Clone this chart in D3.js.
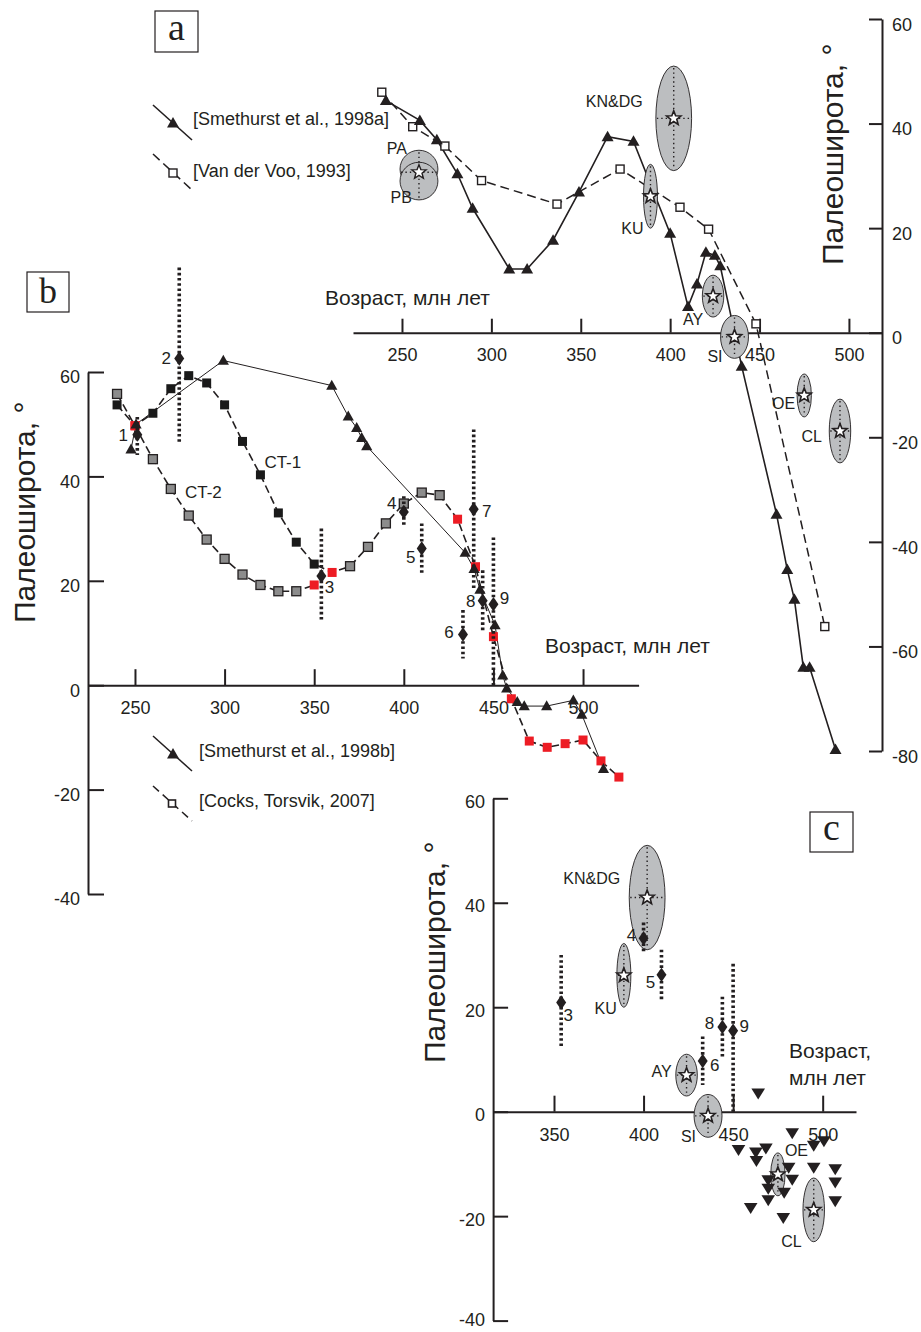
<!DOCTYPE html>
<html>
<head>
<meta charset="utf-8">
<script src="https://cdn.jsdelivr.net/npm/d3@7"></script>
<style>
  body { margin: 0; background: #fff; }
</style>
</head>
<body>
<div id="chart"></div>
<script>
// ---------- ticks ----------
var ageTicks = [250, 300, 350, 400, 450, 500]
var ageTicksC = [350, 400, 450, 500]
var latTicksA = [60, 40, 20, 0, -20, -40, -60, -80]
var latTicksB = [60, 40, 20, 0, -20, -40]

// ---------- panel a ----------
// [Smethurst et al., 1998a]
var smaAge = [241, 260, 269.5, 281, 289.5, 310, 320, 334.5, 349, 365, 379.5, 400, 410, 415, 420, 425, 428, 440, 459.5, 465.5, 469.5, 474.5, 478, 492.5]
var smaLat = [44.4, 40.6, 36.9, 30.4, 23.8, 12.2, 12.2, 17.7, 26.9, 37.5, 36.6, 19, 5, 9.3, 15.4, 14.8, 12.8, -6.4, -34.7, -45.3, -51, -64, -64, -79.7]
// [Van der Voo, 1993]
var vdvAge = [238.7, 256, 274, 294.5, 336.7, 372, 405.5, 421.5, 448, 486.5]
var vdvLat = [46, 39.4, 35.7, 29.1, 24.6, 31.3, 24, 19.8, 1.7, -56.2]
// PA / PB poles
var ppNames = ['PA', 'PB']
var ppAge = [259.5, 259.5]
var ppLat = [31.3, 29.0]
var ppAgeErr = [10.6, 10.6]
var ppLatErr = [3.6, 3.6]
var ppStar = [259.5, 30.7]

// ---------- poles (panels a and c) ----------
var ellNames = ['KN&DG', 'KU', 'AY', 'SI', 'OE', 'CL']
var ellAge = [402, 389, 424, 436, 475, 495]
var ellLat = [41, 26.1, 7, -0.8, -12, -18.8]
var ellAgeErr = [10, 3.9, 6, 7.8, 4, 6]
var ellLatErr = [10, 6.1, 4, 4.1, 4.1, 6.1]

// ---------- panel b ----------
// [Smethurst et al., 1998b]
var smbAge = [247.8, 250.6, 299.3, 359.8, 369, 373.7, 376.5, 379.3, 434.2, 439.2, 442.5, 450.9, 455.2, 457.4, 463.3, 467.2, 479.7, 494.6, 499.3, 511.4]
var smbLat = [45.2, 50, 62.2, 57.4, 51.5, 49.3, 47.4, 45.8, 25.4, 22.3, 18.3, 11.5, 1.9, -0.6, -3.2, -4, -4, -2.9, -5.6, -16]
// [Cocks, Torsvik, 2007]  CT-1 and CT-2 (k = black, g = grey, r = red)
var ct1Age = [240, 250, 260, 270, 280, 290, 300, 310, 320, 330, 340, 350, 360, 370, 380, 390, 400, 410, 420, 430, 440, 450, 460, 470, 480, 490, 500, 510, 520]
var ct1Lat = [53.7, 49.7, 52.1, 56.8, 59.3, 57.9, 53.7, 46.7, 40.3, 33, 27.4, 23.2, 21.6, 22.8, 26.5, 31, 34.8, 36.9, 36.4, 31.8, 22.7, 9.3, -2.6, -10.7, -11.9, -11.2, -10.5, -14.5, -17.6]
var ct1Kind = ['k', 'r', 'k', 'k', 'k', 'k', 'k', 'k', 'k', 'k', 'k', 'k', 'r', 'g', 'g', 'g', 'g', 'g', 'g', 'r', 'r', 'r', 'r', 'r', 'r', 'r', 'r', 'r', 'r']
var ct2Age = [240, 250, 260, 270, 280, 290, 300, 310, 320, 330, 340, 350]
var ct2Lat = [55.8, 49.7, 43.3, 37.6, 32.5, 27.9, 24.2, 21.2, 19.2, 18.0, 18.0, 19.2]
var ct2Kind = ['g', 'r', 'g', 'g', 'g', 'g', 'g', 'g', 'g', 'g', 'g', 'r']

// ---------- diamonds with error bars (panels b and c) ----------
var dmId = ['1', '2', '3', '4', '5', '6', '7', '8', '9']
var dmAge = [251.3, 274.7, 354, 400, 410, 433, 439, 444, 450]
var dmLat = [48, 62.6, 20.9, 33.2, 26.2, 9.7, 33.7, 16.2, 15.5]
var dmLo = [44.1, 46.5, 12.2, 30.5, 21.1, 5.1, 18.4, 10.3, 0]
var dmHi = [51.4, 80, 30, 36.2, 31, 14.4, 49, 22, 28.3]
var dmInC = ['3', '4', '5', '6', '8', '9']

// ---------- panel c down triangles ----------
var ctrAge = [464, 483, 500.7, 495, 453, 462.7, 468.3, 463, 495, 507, 481, 469.6, 483, 469.6, 469.6, 478.5, 507, 507, 459.8, 478]
var ctrLat = [3.5, -4.1, -5.6, -6.5, -7.3, -7.8, -7.0, -9.4, -10.7, -11.0, -10.7, -13.1, -13.0, -14.7, -16.9, -15.5, -13.5, -17.1, -18.4, -20.3]

// ---------- layout ----------
var ink = '#231f20'
var red = '#ed1c24'
var sans = "'Liberation Sans', Arial, sans-serif"
var serif = "'Liberation Serif', 'Times New Roman', serif"

var ellLabelA = { 'KN&DG': [-31, -11, 'end'], KU: [-7, 38, 'end'], AY: [-10, 29, 'end'], SI: [-12, 25, 'end'], OE: [-9, 14, 'end'], CL: [-18, 11, 'end'] }
var ellLabelC = { 'KN&DG': [-27, -14, 'end'], KU: [-7, 39, 'end'], AY: [-15, 2, 'end'], SI: [-12, 26, 'end'], OE: [7, -18, 'start'], CL: [-12, 37, 'end'] }
var ppLabel = { PA: [-12, -18], PB: [-7, 31] }
var dmLabelB = { 1: [-14, 0], 2: [-13, -1], 3: [8, 11], 4: [-12, -9], 5: [-11, 8], 6: [-14, -3], 7: [13, 2], 8: [-12, 0], 9: [11, -6] }
var dmLabelC = { 3: [7, 12], 4: [-12, -3], 5: [-11, 7], 6: [12, 4], 8: [-13, -4], 9: [11, -5] }

var triUp = 'M0,-6L6,4.5L-6,4.5Z'
var triUpSmall = 'M0,-5.8L5.6,4.2L-5.6,4.2Z'
var triDown = 'M-6.8,-4.8L6.8,-4.8L0,6.2Z'
var diamond = 'M0,-7.2L5,0L0,7.2L-5,0Z'

function starPath(R, r) {
  var pts = []
  for (var i = 0; i < 10; i++) {
    var a = -Math.PI / 2 + (i * Math.PI) / 5
    var rad = i % 2 === 0 ? R : r
    pts.push([(Math.cos(a) * rad).toFixed(2), (Math.sin(a) * rad).toFixed(2)])
  }
  return 'M' + pts.join('L') + 'Z'
}
var star = starPath(7.5, 3.2)

function zip(ages, lats) {
  return ages.map(function(a, i) {
    return { age: a, lat: lats[i] }
  })
}

var svg = d3
  .select('#chart')
  .append('svg')
  .attr('width', 921)
  .attr('height', 1332)
  .style('font-family', sans)

// ---------- scales ----------
var xA = d3.scaleLinear().domain([222.6, 518.5]).range([353, 882])
var yA = d3.scaleLinear().domain([-80, 60]).range([751, 19])
var xB = d3.scaleLinear().domain([223.9, 531]).range([88.2, 638.6])
var yB = d3.scaleLinear().domain([-40, 60]).range([894, 372])
var xC = d3.scaleLinear().domain([316, 518.6]).range([493.1, 856])
var yC = d3.scaleLinear().domain([-40, 60]).range([1320.6, 798.3])

function styleAxis(g) {
  g.selectAll('path').attr('stroke', ink).attr('stroke-width', 2)
  g.selectAll('line').attr('stroke', ink).attr('stroke-width', 2)
  g.selectAll('text')
    .attr('font-size', 18)
    .attr('fill', ink)
    .attr('font-family', sans)
}
var fmt = function(d) {
  return String(d)
}

function panelLetter(x, y, w, h, letter, size, baseline) {
  svg
    .append('rect')
    .attr('x', x)
    .attr('y', y)
    .attr('width', w)
    .attr('height', h)
    .attr('fill', 'white')
    .attr('stroke', ink)
    .attr('stroke-width', 1.2)
  svg
    .append('text')
    .text(letter)
    .attr('x', x + w / 2)
    .attr('y', baseline)
    .attr('text-anchor', 'middle')
    .attr('font-family', serif)
    .attr('font-size', size)
    .attr('fill', ink)
}

function yTitle(x, y) {
  svg
    .append('text')
    .text('Палеоширота, °')
    .attr('transform', 'translate(' + x + ',' + y + ') rotate(-90)')
    .attr('font-size', 30)
    .attr('fill', ink)
}

function xTitle(x, y, lines) {
  lines.forEach(function(t, i) {
    svg
      .append('text')
      .text(t)
      .attr('x', x)
      .attr('y', y + i * 27)
      .attr('font-size', 21)
      .attr('fill', ink)
  })
}

function drawEllipses(g, x, y, labels) {
  var rows = ellNames.map(function(n, i) {
    return { name: n, age: ellAge[i], lat: ellLat[i], da: ellAgeErr[i], dl: ellLatErr[i] }
  })
  rows.forEach(function(d) {
    var cx = x(d.age)
    var cy = y(d.lat)
    var rx = x(d.age + d.da) - cx
    var ry = cy - y(d.lat + d.dl)
    g.append('ellipse')
      .attr('cx', cx)
      .attr('cy', cy)
      .attr('rx', rx)
      .attr('ry', ry)
      .attr('fill', '#bcbec0')
      .attr('stroke', ink)
      .attr('stroke-width', 0.9)
    g.append('line')
      .attr('x1', cx)
      .attr('x2', cx)
      .attr('y1', cy - ry + 2)
      .attr('y2', cy + ry - 2)
      .attr('stroke', ink)
      .attr('stroke-width', 1.4)
      .attr('stroke-dasharray', '1.4,3')
    g.append('line')
      .attr('x1', cx - rx + 1)
      .attr('x2', cx + rx - 1)
      .attr('y1', cy)
      .attr('y2', cy)
      .attr('stroke', ink)
      .attr('stroke-width', 1.4)
      .attr('stroke-dasharray', '1.4,3')
    g.append('path')
      .attr('d', star)
      .attr('transform', 'translate(' + cx + ',' + cy + ')')
      .attr('fill', 'white')
      .attr('stroke', ink)
      .attr('stroke-width', 1.6)
    var l = labels[d.name]
    g.append('text')
      .text(d.name)
      .attr('x', cx + l[0])
      .attr('y', cy + l[1])
      .attr('text-anchor', l[2])
      .attr('font-size', 16)
      .attr('fill', ink)
  })
}

function drawDiamonds(g, x, y, ids, labels) {
  var rows = dmId
    .map(function(id, i) {
      return { id: id, age: dmAge[i], lat: dmLat[i], lo: dmLo[i], hi: dmHi[i] }
    })
    .filter(function(d) {
      return ids.indexOf(d.id) >= 0
    })
  g.selectAll('.ebar')
    .data(rows)
    .enter()
    .append('line')
    .attr('class', 'ebar')
    .attr('x1', function(d) { return x(d.age) })
    .attr('x2', function(d) { return x(d.age) })
    .attr('y1', function(d) { return y(d.hi) })
    .attr('y2', function(d) { return y(d.lo) })
    .attr('stroke', ink)
    .attr('stroke-width', 3.6)
    .attr('stroke-dasharray', '2.6,2.6')
  g.selectAll('.dm')
    .data(rows)
    .enter()
    .append('path')
    .attr('class', 'dm')
    .attr('d', diamond)
    .attr('transform', function(d) {
      return 'translate(' + x(d.age) + ',' + y(d.lat) + ')'
    })
    .attr('fill', ink)
  g.selectAll('.dmlab')
    .data(rows)
    .enter()
    .append('text')
    .attr('class', 'dmlab')
    .text(function(d) { return d.id })
    .attr('x', function(d) { return x(d.age) + labels[d.id][0] })
    .attr('y', function(d) { return y(d.lat) + labels[d.id][1] })
    .attr('dy', '0.36em')
    .attr('text-anchor', 'middle')
    .attr('font-size', 17)
    .attr('fill', ink)
}

// =================== PANEL A ===================
var ga = svg.append('g').attr('class', 'panel-a')

ga.append('g')
  .attr('transform', 'translate(882,0)')
  .call(d3.axisRight(yA).tickValues(latTicksA).tickFormat(fmt).tickSizeInner(-13).tickSizeOuter(0).tickPadding(10))
  .call(styleAxis)
  .selectAll('text')
  .attr('dy', '0.62em')

ga.append('g')
  .attr('transform', 'translate(0,' + yA(0) + ')')
  .call(d3.axisBottom(xA).tickValues(ageTicks).tickFormat(fmt).tickSizeInner(-14).tickSizeOuter(0).tickPadding(16))
  .call(styleAxis)

var lineA = d3
  .line()
  .x(function(d) { return xA(d.age) })
  .y(function(d) { return yA(d.lat) })

var vdv = zip(vdvAge, vdvLat)
var sma = zip(smaAge, smaLat)

ga.append('path')
  .datum(vdv)
  .attr('d', lineA)
  .attr('fill', 'none')
  .attr('stroke', ink)
  .attr('stroke-width', 1.5)
  .attr('stroke-dasharray', '9,5')

ga.append('path')
  .datum(sma)
  .attr('d', lineA)
  .attr('fill', 'none')
  .attr('stroke', ink)
  .attr('stroke-width', 1.6)

ga.selectAll('.vdv')
  .data(vdv)
  .enter()
  .append('rect')
  .attr('class', 'vdv')
  .attr('x', function(d) { return xA(d.age) - 4 })
  .attr('y', function(d) { return yA(d.lat) - 4 })
  .attr('width', 8)
  .attr('height', 8)
  .attr('fill', 'white')
  .attr('stroke', ink)
  .attr('stroke-width', 1.4)

ga.selectAll('.sma')
  .data(sma)
  .enter()
  .append('path')
  .attr('class', 'sma')
  .attr('d', triUp)
  .attr('transform', function(d) {
    return 'translate(' + xA(d.age) + ',' + yA(d.lat) + ')'
  })
  .attr('fill', ink)

// PA / PB circles
var pp = ppNames.map(function(n, i) {
  return { name: n, age: ppAge[i], lat: ppLat[i], da: ppAgeErr[i], dl: ppLatErr[i] }
})
pp.forEach(function(d) {
  ga.append('ellipse')
    .attr('cx', xA(d.age))
    .attr('cy', yA(d.lat))
    .attr('rx', xA(d.age + d.da) - xA(d.age))
    .attr('ry', yA(d.lat) - yA(d.lat + d.dl))
    .attr('fill', '#bcbec0')
    .attr('stroke', ink)
    .attr('stroke-width', 0.9)
})
var psx = xA(ppStar[0])
var psy = yA(ppStar[1])
var prx = xA(ppAge[0] + ppAgeErr[0]) - xA(ppAge[0])
ga.append('line')
  .attr('x1', psx)
  .attr('x2', psx)
  .attr('y1', yA(ppLat[0] + ppLatErr[0]) + 2)
  .attr('y2', yA(ppLat[1] - ppLatErr[1]) - 2)
  .attr('stroke', ink)
  .attr('stroke-width', 1.4)
  .attr('stroke-dasharray', '1.4,3')
ga.append('line')
  .attr('x1', psx - prx + 1)
  .attr('x2', psx + prx - 1)
  .attr('y1', psy)
  .attr('y2', psy)
  .attr('stroke', ink)
  .attr('stroke-width', 1.4)
  .attr('stroke-dasharray', '1.4,3')
ga.append('path')
  .attr('d', star)
  .attr('transform', 'translate(' + psx + ',' + psy + ')')
  .attr('fill', 'white')
  .attr('stroke', ink)
  .attr('stroke-width', 1.4)
pp.forEach(function(d) {
  ga.append('text')
    .text(d.name)
    .attr('x', psx + ppLabel[d.name][0])
    .attr('y', psy + ppLabel[d.name][1])
    .attr('text-anchor', 'end')
    .attr('font-size', 16)
    .attr('fill', ink)
})

drawEllipses(ga, xA, yA, ellLabelA)

// legend a
ga.append('line')
  .attr('x1', 153).attr('y1', 105).attr('x2', 192).attr('y2', 140)
  .attr('stroke', ink).attr('stroke-width', 1.6)
ga.append('path').attr('d', triUp).attr('transform', 'translate(173,123)').attr('fill', ink)
ga.append('text').text('[Smethurst et al., 1998a]')
  .attr('x', 193).attr('y', 125).attr('font-size', 18).attr('fill', ink)
ga.append('line')
  .attr('x1', 153).attr('y1', 154).attr('x2', 192).attr('y2', 190)
  .attr('stroke', ink).attr('stroke-width', 1.5).attr('stroke-dasharray', '9,5')
ga.append('rect').attr('x', 169).attr('y', 169).attr('width', 8).attr('height', 8)
  .attr('fill', 'white').attr('stroke', ink).attr('stroke-width', 1.4)
ga.append('text').text('[Van der Voo, 1993]')
  .attr('x', 193).attr('y', 177).attr('font-size', 18).attr('fill', ink)

panelLetter(155, 11, 43, 41, 'a', 38, 40)
yTitle(843, 265)
xTitle(325, 305, ['Возраст, млн лет'])

// =================== PANEL B ===================
var gb = svg.append('g').attr('class', 'panel-b')

gb.append('g')
  .attr('transform', 'translate(88,0)')
  .call(d3.axisLeft(yB).tickValues(latTicksB).tickFormat(fmt).tickSizeInner(-16).tickSizeOuter(0).tickPadding(8))
  .call(styleAxis)
  .selectAll('text')
  .attr('dy', '0.6em')

gb.append('g')
  .attr('transform', 'translate(0,' + yB(0) + ')')
  .call(d3.axisBottom(xB).tickValues(ageTicks).tickFormat(fmt).tickSizeInner(-16).tickSizeOuter(0).tickPadding(16))
  .call(styleAxis)

var lineB = d3
  .line()
  .x(function(d) { return xB(d.age) })
  .y(function(d) { return yB(d.lat) })

var ct1 = ct1Age.map(function(a, i) {
  return { age: a, lat: ct1Lat[i], kind: ct1Kind[i] }
})
var ct2 = ct2Age.map(function(a, i) {
  return { age: a, lat: ct2Lat[i], kind: ct2Kind[i] }
})
var smb = zip(smbAge, smbLat)

;[ct1, ct2].forEach(function(series) {
  gb.append('path')
    .datum(series)
    .attr('d', lineB)
    .attr('fill', 'none')
    .attr('stroke', ink)
    .attr('stroke-width', 1.6)
    .attr('stroke-dasharray', '8,4')
})

gb.append('path')
  .datum(smb)
  .attr('d', lineB)
  .attr('fill', 'none')
  .attr('stroke', ink)
  .attr('stroke-width', 1)

var kindFill = { k: '#1a1a1a', g: '#8c8c8c', r: red }
gb.selectAll('.sq')
  .data(ct2.concat(ct1))
  .enter()
  .append('rect')
  .attr('class', 'sq')
  .attr('x', function(d) { return xB(d.age) - 4.5 })
  .attr('y', function(d) { return yB(d.lat) - 4.5 })
  .attr('width', 9)
  .attr('height', 9)
  .attr('fill', function(d) { return kindFill[d.kind] })
  .attr('stroke', function(d) { return d.kind === 'g' ? ink : 'none' })
  .attr('stroke-width', 1.3)

gb.selectAll('.smb')
  .data(smb)
  .enter()
  .append('path')
  .attr('class', 'smb')
  .attr('d', triUpSmall)
  .attr('transform', function(d) {
    return 'translate(' + xB(d.age) + ',' + yB(d.lat) + ')'
  })
  .attr('fill', ink)

drawDiamonds(gb, xB, yB, dmId, dmLabelB)

gb.append('text').text('CT-1')
  .attr('x', xB(322.2)).attr('y', yB(42.8)).attr('dy', '0.36em')
  .attr('font-size', 17).attr('fill', ink)
gb.append('text').text('CT-2')
  .attr('x', xB(277.9)).attr('y', yB(37)).attr('dy', '0.36em')
  .attr('font-size', 17).attr('fill', ink)

// legend b
gb.append('line')
  .attr('x1', 153).attr('y1', 736).attr('x2', 192).attr('y2', 771)
  .attr('stroke', ink).attr('stroke-width', 1.5)
gb.append('path').attr('d', triUp).attr('transform', 'translate(173,754)').attr('fill', ink)
gb.append('text').text('[Smethurst et al., 1998b]')
  .attr('x', 199).attr('y', 757).attr('font-size', 18).attr('fill', ink)
gb.append('line')
  .attr('x1', 153).attr('y1', 786).attr('x2', 192).attr('y2', 821)
  .attr('stroke', ink).attr('stroke-width', 1.5).attr('stroke-dasharray', '8,5')
gb.append('rect').attr('x', 168.5).attr('y', 800).attr('width', 7).attr('height', 7)
  .attr('fill', 'white').attr('stroke', ink).attr('stroke-width', 1.6)
gb.append('text').text('[Cocks, Torsvik, 2007]')
  .attr('x', 199).attr('y', 807).attr('font-size', 18).attr('fill', ink)

panelLetter(27, 272, 42, 40, 'b', 36, 303)
yTitle(35, 623)
xTitle(545, 653, ['Возраст, млн лет'])

// =================== PANEL C ===================
var gc = svg.append('g').attr('class', 'panel-c')

gc.append('g')
  .attr('transform', 'translate(' + xC.range()[0] + ',0)')
  .call(d3.axisLeft(yC).tickValues(latTicksB).tickFormat(fmt).tickSizeInner(-15).tickSizeOuter(0).tickPadding(8))
  .call(styleAxis)
  .selectAll('text')
  .attr('dy', function(d) {
    return d === -40 ? '0.25em' : '0.5em'
  })

gc.append('g')
  .attr('transform', 'translate(0,' + yC(0) + ')')
  .call(d3.axisBottom(xC).tickValues(ageTicksC).tickFormat(fmt).tickSizeInner(-16).tickSizeOuter(0).tickPadding(17))
  .call(styleAxis)

drawEllipses(gc, xC, yC, ellLabelC)

gc.selectAll('.ctr')
  .data(zip(ctrAge, ctrLat))
  .enter()
  .append('path')
  .attr('class', 'ctr')
  .attr('d', triDown)
  .attr('transform', function(d) {
    return 'translate(' + xC(d.age) + ',' + yC(d.lat) + ')'
  })
  .attr('fill', ink)

drawDiamonds(gc, xC, yC, dmInC, dmLabelC)

panelLetter(810, 812, 43, 40, 'c', 38, 840)
yTitle(445, 1063)
xTitle(789, 1058, ['Возраст,', 'млн лет'])
</script>
</body>
</html>
